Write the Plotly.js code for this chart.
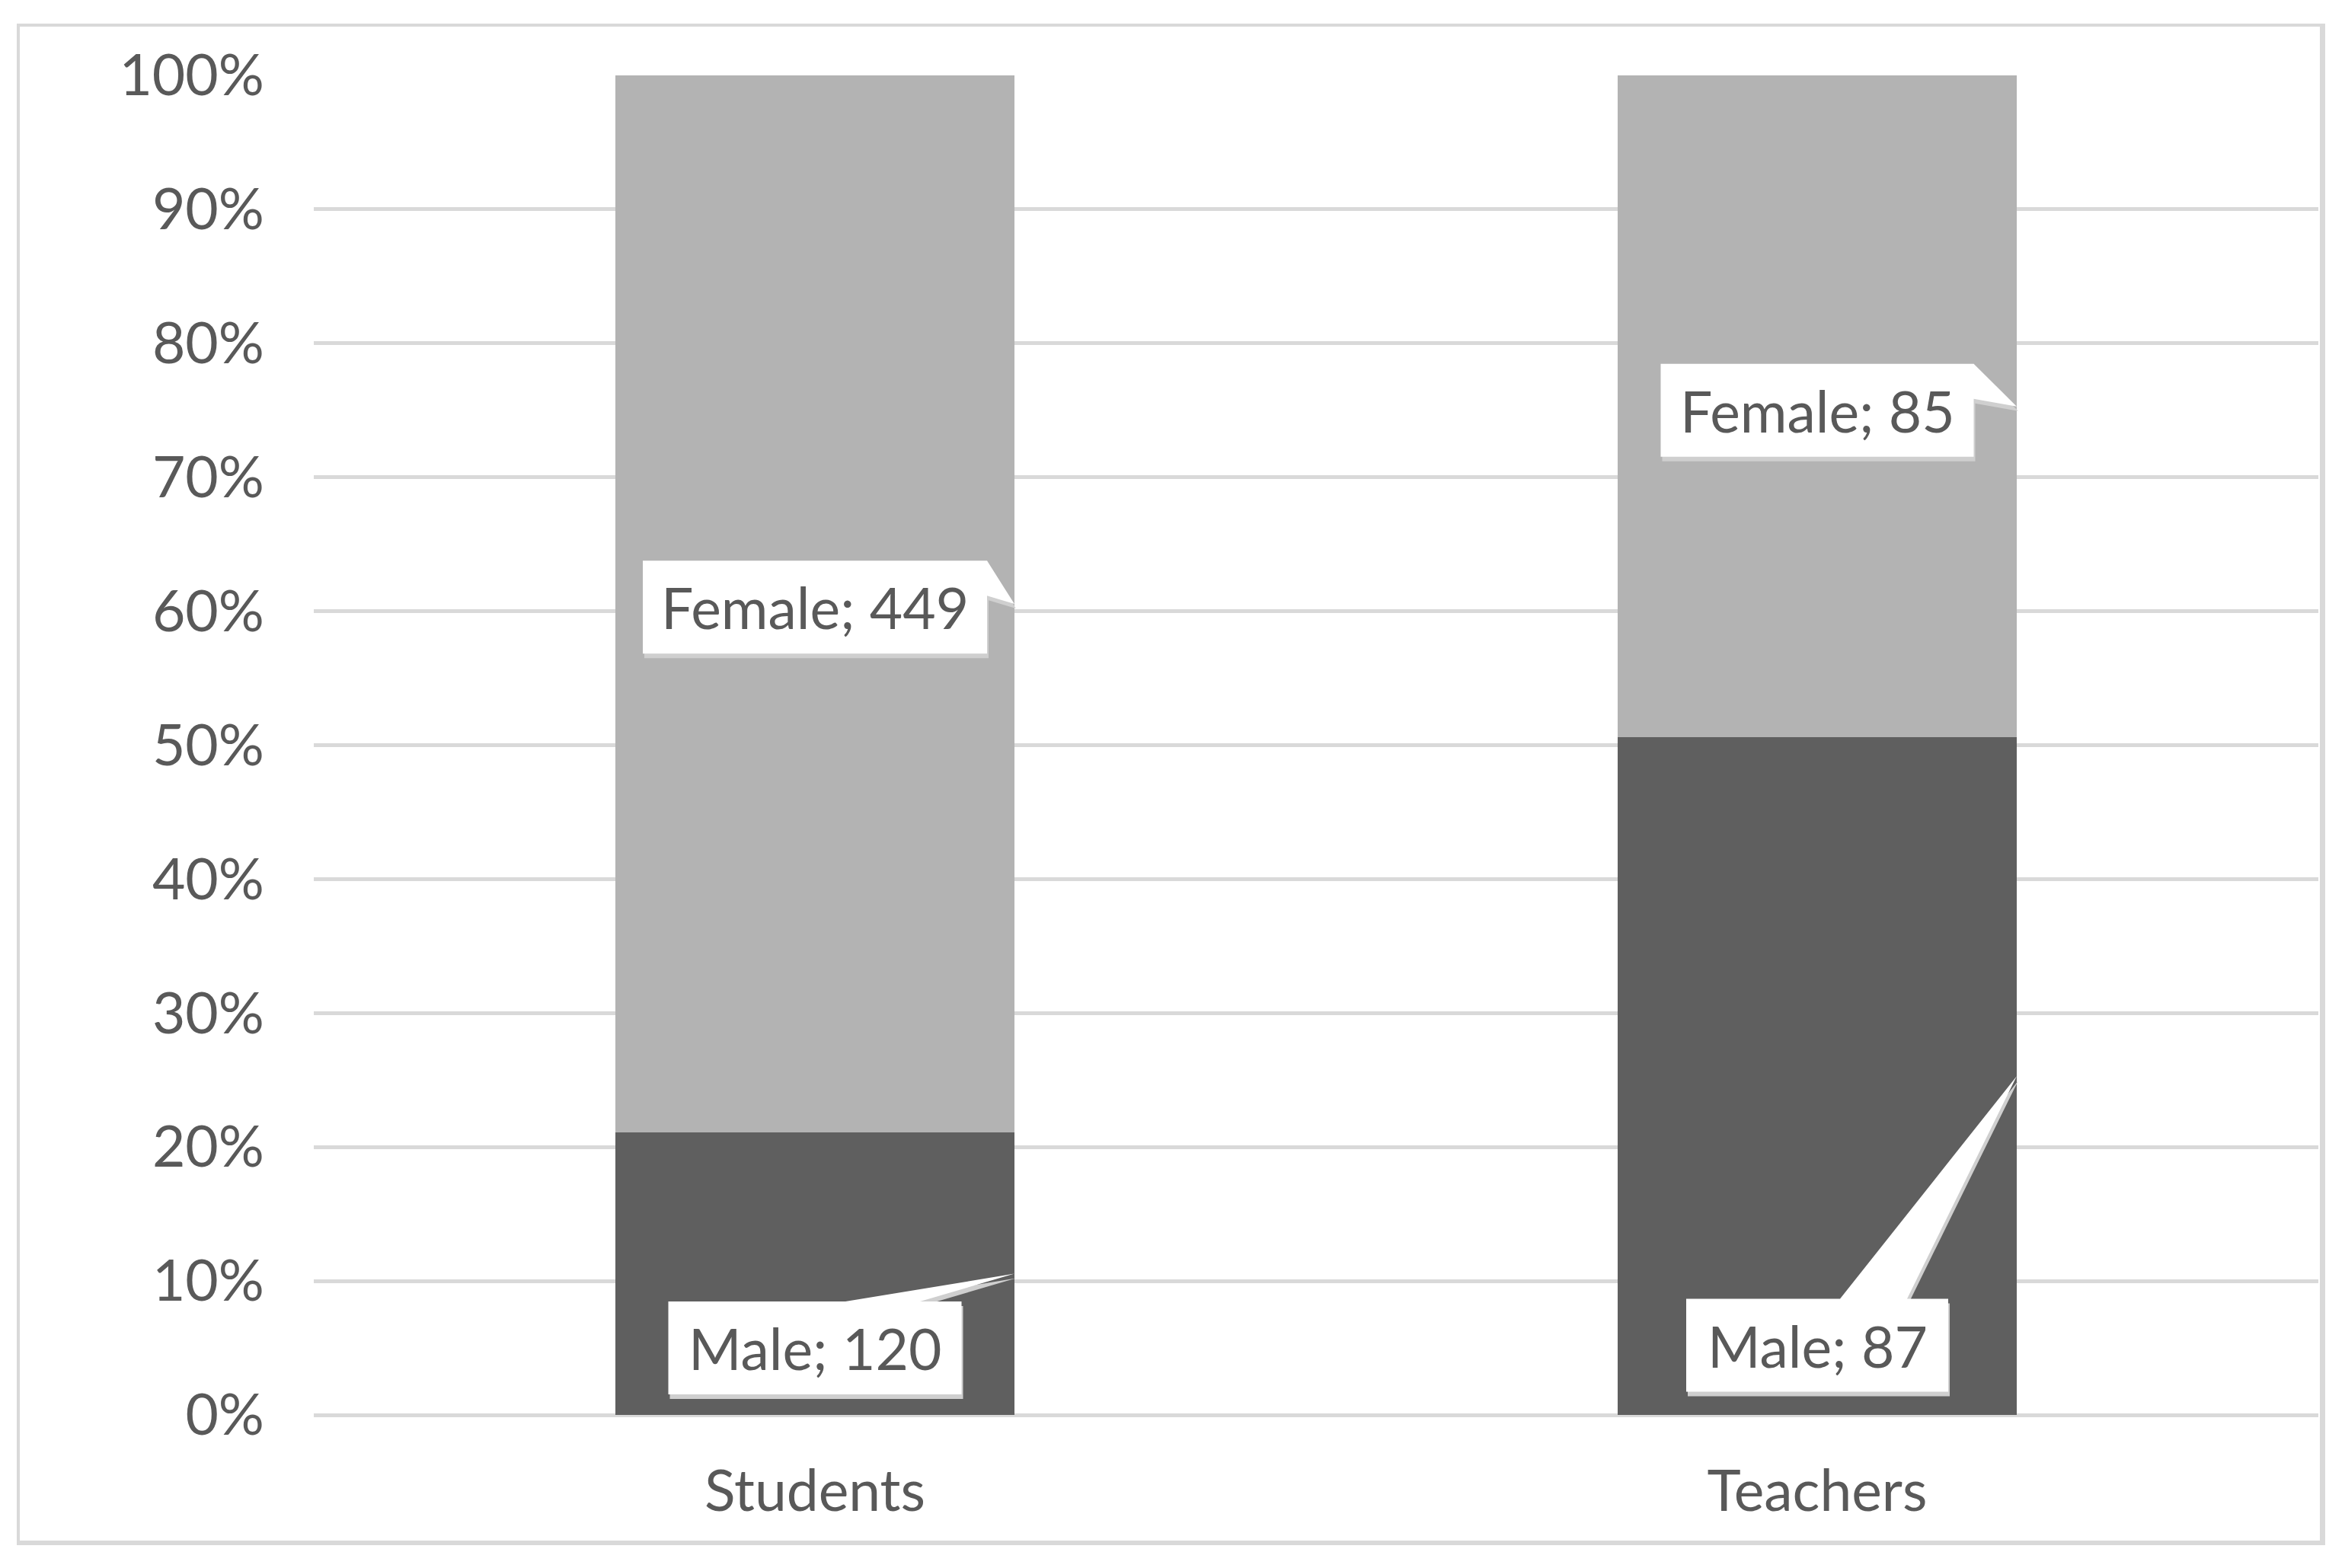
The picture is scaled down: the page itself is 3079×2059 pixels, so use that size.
<!DOCTYPE html>
<html>
<head>
<meta charset="utf-8">
<script src="https://cdn.plot.ly/plotly-3.0.1.min.js"></script>
<style>
  body { margin: 0; background: #fff; }
  #myDiv { position: absolute; left: 26px; top: 35px; }
  #frame { position: absolute; left: 22px; top: 31px; width: 3031px; height: 1998px;
           border: 4px solid #d9d9d9; border-right-width: 7px; border-bottom-width: 6px;
           box-sizing: border-box; pointer-events: none; z-index: 5; }
</style>
</head>
<body>
<div id="myDiv"></div>
<div id="frame"></div>
<script>
// data
var categories = ['Students', 'Teachers'];
var maleCounts = [120, 87];
var femaleCounts = [449, 85];

// callout placement (label box centre in % of bar, box size in px)
var maleLabelY = [5.0, 5.2];
var femaleLabelY = [60.3, 75.0];
var maleBoxW = [385, 344];
var femaleBoxW = [452, 411];
var boxH = 122;
// male tails leave from the top edge, px offsets from box centre
var maleTailBase = [[40, 138], [30, 118]];
// female tails leave from the right edge, px below box top
var femaleTailBase = [0, 46];

var W = 3022, H = 1990;
var M = {l: 386, r: 4, t: 64, b: 167};
var bargap = 0.602;
var xUnit = (W - M.l - M.r) / 2;     // px per category
var yUnit = (H - M.t - M.b) / 100;   // px per percent
var half = (1 - bargap) / 2;

var font = 'Lato, "Open Sans", sans-serif';
var grey = '#595959';
var fs = 75;

var male = {
  x: categories, y: maleCounts, type: 'bar', name: 'Male',
  marker: {color: '#5f5f5f', line: {width: 0}}, hoverinfo: 'none'
};
var female = {
  x: categories, y: femaleCounts, type: 'bar', name: 'Female',
  marker: {color: '#b3b3b3', line: {width: 0}}, hoverinfo: 'none'
};

function poly(pts, dx, dy) {
  var s = '';
  for (var i = 0; i < pts.length; i++) {
    var px = pts[i][0] + dx / xUnit, py = pts[i][1] - dy / yUnit;
    s += (i ? ' L' : 'M') + px + ',' + py;
  }
  return s + ' Z';
}

var shapes = [];
var annotations = [];
function callout(ci, cy, w, text, tip, side, base) {
  var L = ci - w / 2 / xUnit, R = ci + w / 2 / xUnit;
  var T = cy + boxH / 2 / yUnit, B = cy - boxH / 2 / yUnit;
  var pts;
  if (side == 'top') {
    pts = [[L, B], [L, T], [ci + base[0] / xUnit, T], tip, [ci + base[1] / xUnit, T], [R, T], [R, B]];
  } else {
    pts = [[L, B], [L, T], [R, T], [R, T - base[0] / yUnit], tip, [R, T - base[1] / yUnit], [R, B]];
  }
  shapes.push({type: 'path', xref: 'x', yref: 'y', path: poly(pts, 2, 6),
    fillcolor: '#cfcfcf', line: {width: 0}, layer: 'above'});
  shapes.push({type: 'path', xref: 'x', yref: 'y', path: poly(pts, 0, 0),
    fillcolor: '#ffffff', line: {width: 0}, layer: 'above'});
  annotations.push({x: ci, y: cy, xref: 'x', yref: 'y', text: text, showarrow: false,
    xanchor: 'center', yanchor: 'middle', font: {family: font, size: fs, color: grey}});
}

for (var i = 0; i < categories.length; i++) {
  var tot = maleCounts[i] + femaleCounts[i];
  var mp = maleCounts[i] / tot * 100;
  callout(i, maleLabelY[i], maleBoxW[i], 'Male; ' + maleCounts[i],
    [i + half, mp / 2], 'top', maleTailBase[i]);
  callout(i, femaleLabelY[i], femaleBoxW[i], 'Female; ' + femaleCounts[i],
    [i + half, mp + (100 - mp) / 2], 'right', femaleTailBase);
}

var layout = {
  width: W, height: H, autosize: false,
  margin: {l: M.l, r: M.r, t: M.t, b: M.b, pad: 0},
  paper_bgcolor: '#fff', plot_bgcolor: '#fff',
  barmode: 'stack', barnorm: 'percent', bargap: bargap,
  showlegend: false,
  font: {family: font, size: fs, color: grey},
  xaxis: {type: 'category', range: [-0.5, 1.5], showgrid: false, zeroline: false,
    showline: false, ticks: '', ticklabelstandoff: 50,
    tickfont: {family: font, size: fs, color: grey}},
  yaxis: {range: [0, 100], dtick: 10, tick0: 0, ticksuffix: '%', ticks: '',
    showgrid: true, gridcolor: '#d9d9d9', gridwidth: 5,
    zeroline: true, zerolinecolor: '#d9d9d9', zerolinewidth: 5,
    showline: false, ticklabelstandoff: 64,
    tickfont: {family: font, size: fs, color: grey}},
  shapes: shapes,
  annotations: annotations
};

Plotly.newPlot('myDiv', [male, female], layout, {displayModeBar: false, staticPlot: true});
</script>
</body>
</html>
